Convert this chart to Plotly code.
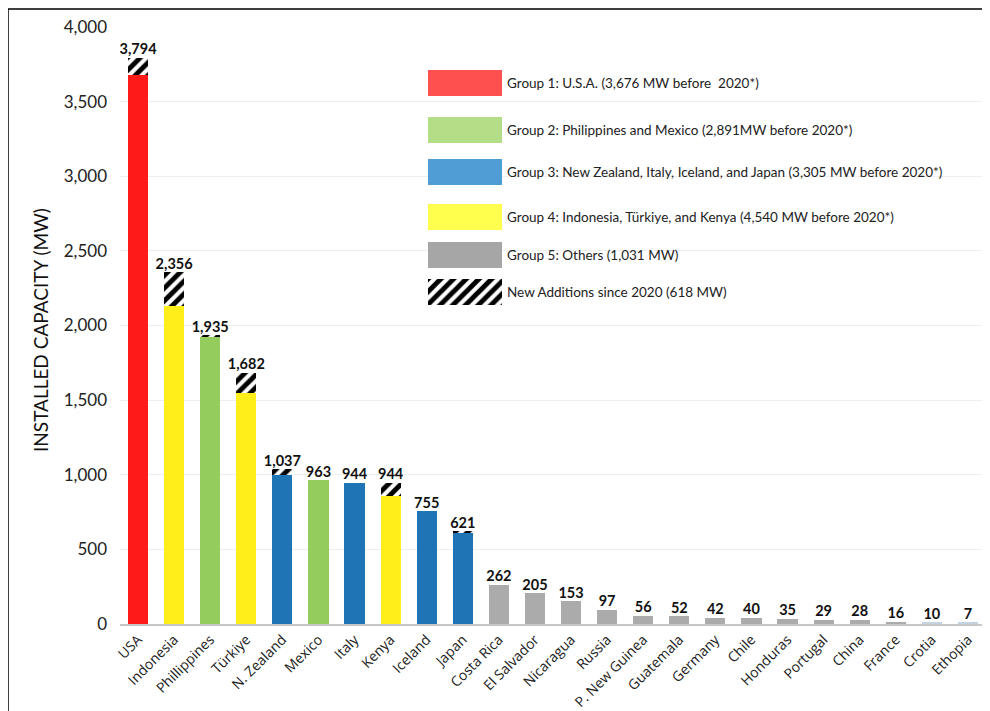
import plotly.graph_objects as go

# ---------------- data ----------------
countries = ["USA", "Indonesia", "Phillippines", "Türkiye", "N. Zealand", "Mexico", "Italy",
             "Kenya", "Iceland", "Japan", "Costa Rica", "El Salvador", "Nicaragua", "Russia",
             "P. New Guinea", "Guatemala", "Germany", "Chile", "Honduras", "Portugal", "China",
             "France", "Crotia", "Ethopia"]
before_2020 = [3676, 2134, 1928, 1549, 999, 963, 944, 858, 755, 607, 262, 205, 153, 97,
               56, 52, 42, 40, 35, 29, 28, 16, 10, 7]
additions = [118, 222, 7, 133, 38, 0, 0, 86, 0, 14, 0, 0, 0, 0,
             0, 0, 0, 0, 0, 0, 0, 0, 0, 0]
totals = [3794, 2356, 1935, 1682, 1037, 963, 944, 944, 755, 621, 262, 205, 153, 97,
          56, 52, 42, 40, 35, 29, 28, 16, 10, 7]
groups = [1, 4, 2, 4, 3, 2, 3, 4, 3, 3, 5, 5, 5, 5, 5, 5, 5, 5, 5, 5, 5, 5, 6, 6]

legend_labels = [
    "Group 1: U.S.A. (3,676 MW before  2020*)",
    "Group 2: Philippines and Mexico (2,891MW before 2020*)",
    "Group 3: New Zealand, Italy, Iceland, and Japan (3,305 MW before 2020*)",
    "Group 4: Indonesia, Türkiye, and Kenya (4,540 MW before 2020*)",
    "Group 5: Others (1,031 MW)",
    "New Additions since 2020 (618 MW)",
]
y_ticks = [0, 500, 1000, 1500, 2000, 2500, 3000, 3500, 4000]
y_title = "INSTALLED CAPACITY (MW)"

# ---------------- styles ----------------
bar_colors = {1: "#FF1A1A", 2: "#94CD5E", 3: "#1F74B6", 4: "#FFEE1A", 5: "#ABABAB", 6: "#C5D2E0"}
legend_colors = ["#FF5050", "#B3DE87", "#509CD5", "#FFFF4D", "#A6A6A6"]
FONT = "Lato, 'Open Sans', sans-serif"

OFF = 8                      # page body margin offset
W, H = 990 - OFF, 711 - OFF  # figure size
L, R, T, B = 120 - OFF, 4, 27 - OFF, 87
PW, PH = W - L - R, H - T - B


def px(x):  # page pixel -> paper
    return (x - OFF - L) / PW


def py(y):
    return (H - B - (y - OFF)) / PH


fig = go.Figure()

HATCH = dict(shape="/", fgcolor="black", bgcolor="white", size=9, solidity=0.55, fgopacity=1)

fig.add_trace(go.Bar(
    x=countries, y=before_2020,
    marker=dict(color=[bar_colors[g] for g in groups], line=dict(width=0)),
    showlegend=False, hoverinfo="x+y",
))
fig.add_trace(go.Bar(
    x=countries, y=additions,
    marker=dict(color="white", line=dict(width=0), pattern=HATCH),
    showlegend=False, hoverinfo="x+y",
))
fig.add_trace(go.Scatter(
    x=countries, y=totals, mode="text",
    text=[f"{v:,}" for v in totals], textposition="top center",
    textfont=dict(family=FONT, size=14.5, color="#111111", weight="bold"),
    showlegend=False, hoverinfo="skip",
))

# ---------------- custom legend ----------------
row_centers = [83, 130, 172, 217, 255, 292]
sw_x0, sw_x1, sw_h = 428, 502, 26
shapes = []
annotations = []
for i, lab in enumerate(legend_labels):
    cy = row_centers[i]
    if i < len(legend_colors):
        shapes.append(dict(type="rect", xref="paper", yref="paper",
                           x0=px(sw_x0), x1=px(sw_x1), y0=py(cy + sw_h / 2), y1=py(cy - sw_h / 2),
                           fillcolor=legend_colors[i], line=dict(width=0), layer="above"))
    annotations.append(dict(xref="paper", yref="paper", x=px(505), y=py(cy), text=lab,
                            showarrow=False, xanchor="left", yanchor="middle",
                            font=dict(family=FONT, size=13.5, color="#222222")))

# hatched legend swatch via an overlay axis
hcy = row_centers[5]
fig.add_trace(go.Bar(
    x=[0], y=[1], width=[1], xaxis="x2", yaxis="y2",
    marker=dict(color="white", line=dict(width=0), pattern=HATCH),
    showlegend=False, hoverinfo="skip",
))

# outer frame
shapes.append(dict(type="rect", xref="paper", yref="paper",
                   x0=px(8), x1=px(1010), y0=py(730), y1=py(9),
                   line=dict(color="black", width=1.5), fillcolor="rgba(0,0,0,0)", layer="above"))

annotations.append(dict(xref="paper", yref="paper", x=px(40), y=py(330), text=y_title,
                        textangle=-90, showarrow=False, xanchor="center", yanchor="middle",
                        font=dict(family=FONT, size=19, color="#111111")))

fig.update_layout(
    width=W, height=H,
    margin=dict(l=L, r=R, t=T, b=B, autoexpand=False),
    paper_bgcolor="white", plot_bgcolor="white",
    barmode="stack", bargap=0.44,
    font=dict(family=FONT),
    shapes=shapes, annotations=annotations,
    xaxis=dict(
        type="category", range=[-0.5, len(countries) - 0.5], automargin=False,
        tickangle=-45, tickfont=dict(family="'Open Sans', sans-serif", size=14, color="#222222"),
        showline=True, linecolor="#C8C8C8", linewidth=2, ticks="", showgrid=False,
        fixedrange=True,
    ),
    yaxis=dict(
        range=[0, 4000], tickvals=y_ticks, ticktext=[f"{v:,}" for v in y_ticks],
        tickfont=dict(family=FONT, size=17, color="#222222"), automargin=False,
        showgrid=True, gridcolor="#EFEFEF", gridwidth=1, zeroline=False,
        showline=False, ticks="", ticklabelstandoff=12, fixedrange=True,
    ),
    xaxis2=dict(domain=[px(sw_x0), px(sw_x1)], range=[-0.5, 0.5], visible=False,
                anchor="y2", fixedrange=True),
    yaxis2=dict(domain=[py(hcy + sw_h / 2), py(hcy - sw_h / 2)], range=[0, 1], visible=False,
                anchor="x2", fixedrange=True),
)

fig.write_html("out.html")
